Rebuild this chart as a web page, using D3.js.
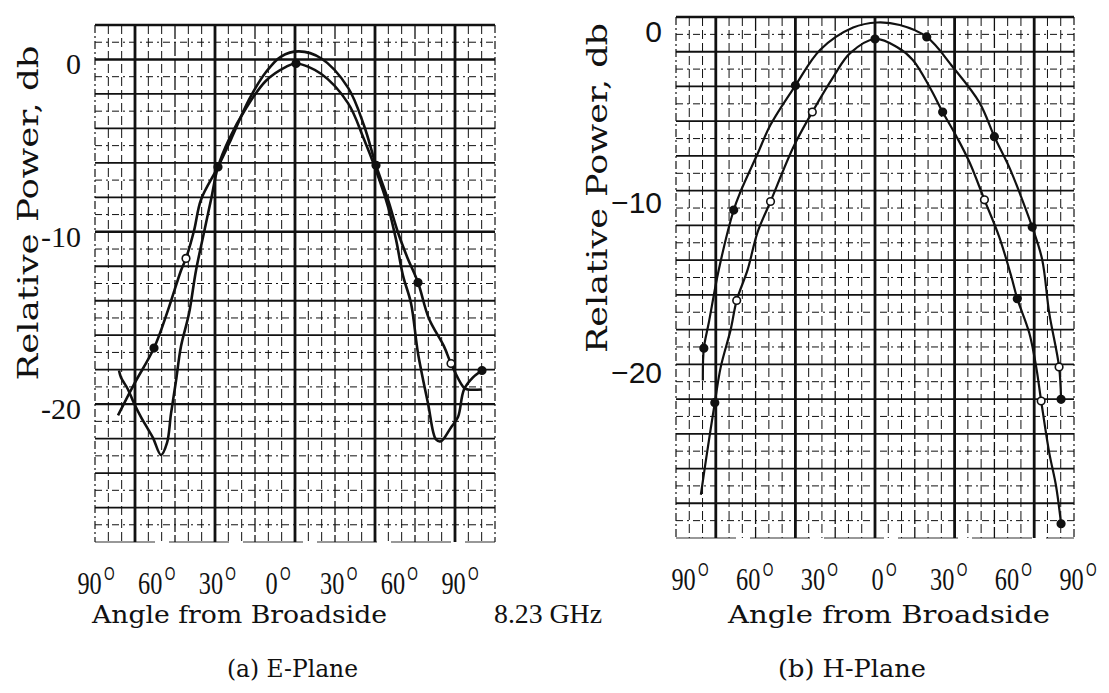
<!DOCTYPE html>
<html>
<head>
<meta charset="utf-8">
<script src="https://cdn.jsdelivr.net/npm/d3@7/dist/d3.min.js"></script>
<style>
  body { margin: 0; background: #fff; }
  svg { display: block; }
</style>
</head>
<body>
<svg id="chart"></svg>
<script>
// ---- E-plane, trace 1 (higher peak, shallow side lobes) ----
let eAngle1 = [-88.5, -80.5, -70.5, -63.5, -57, -54.5, -50.5, -47, -38.5, -32, -23, -14.5, -7, 2, 13, 26.5, 34.5, 40.5, 46.5, 51.5, 56, 61.5, 67, 74.5, 78, 84.5, 86.5, 93.5];
let eDb1    = [-20.6, -18.8, -16.7, -14.5, -12.2, -11.5, -9.9, -8.1, -6.2, -4.6, -2.3, -0.7, 0.2, 0.5, 0.1, -1.6, -3.8, -6.1, -8.1, -10.0, -11.4, -12.9, -15.0, -16.6, -17.6, -19.0, -19.1, -19.1];

// ---- E-plane, trace 2 (lower peak, deep nulls) ----
let eAngle2 = [-88, -87, -83.5, -80.5, -77, -73.5, -71, -67, -64, -62, -59.5, -57, -53, -49.5, -45.5, -42, -38.5, -33, -24.5, -14.5, -4.5, 0.5, 13, 26.5, 34.5, 40.5, 46.5, 50.5, 54, 58, 61.5, 66.5, 70.5, 73, 78, 81.5, 84.5, 89, 93.5];
let eDb2    = [-18.0, -18.4, -19.1, -19.9, -20.7, -21.4, -21.9, -22.9, -22.2, -20.5, -18.6, -16.6, -14.7, -12.2, -10.0, -8.1, -6.2, -4.6, -2.8, -1.2, -0.4, -0.2, -0.8, -2.5, -4.6, -6.4, -8.5, -10.4, -12.5, -14.1, -17.0, -19.9, -22.0, -22.1, -21.3, -20.7, -19.1, -18.4, -18.0];

// E-plane plotted points (1 = filled, 0 = open)
let eMarkAngle = [-70.5, -54.5, -38.5, 0.5, 40.5, 61.5, 78, 93.5];
let eMarkDb    = [-16.7, -11.5, -6.2, -0.2, -6.1, -12.9, -17.6, -18.0];
let eMarkFill  = [1, 0, 1, 1, 1, 1, 0, 1];

// ---- H-plane, trace 1 (wide beam) ----
let hAngle1 = [-86.5, -86, -83.5, -78.5, -71, -67.5, -59, -52.5, -40, -27.5, -11, 1, 12.5, 26, 39, 52.5, 60, 67.5, 74, 79, 84, 87.5, 92.5, 93.5];
let hDb1    = [-20.5, -18.6, -17.1, -14.0, -10.5, -9.4, -7.2, -5.5, -3.2, -1.1, 0.2, 0.5, 0.35, -0.35, -2.1, -4.2, -6.2, -8.0, -9.9, -11.5, -13.4, -16.5, -19.7, -21.6];

// ---- H-plane, trace 2 (narrow beam) ----
let hAngle2 = [-87.5, -85, -80.5, -77.5, -72.5, -69.5, -64, -59, -52.5, -41, -31.5, -21, -12.5, 0, 11, 19, 27.5, 34, 41, 47.5, 55, 62.5, 68.5, 71.5, 77.5, 81, 83.5, 87.5, 91, 93.5];
let hDb2    = [-27.2, -25.2, -21.8, -19.7, -17.5, -15.8, -14.0, -11.8, -10.0, -6.8, -4.75, -2.7, -1.3, -0.47, -0.94, -1.7, -3.3, -4.75, -6.2, -7.7, -9.9, -12.1, -14.4, -15.7, -17.7, -19.7, -21.7, -24.7, -26.7, -28.9];

let hMarkAngle = [-80.5, -69.5, -52.5, -31.5, 0, 34, 55, 71.5, 83.5, 93.5, -86, -71, -40, 26, 60, 79, 92.5, 93.5];
let hMarkDb    = [-21.8, -15.8, -10.0, -4.75, -0.47, -4.75, -9.9, -15.7, -21.7, -28.9, -18.6, -10.5, -3.2, -0.35, -6.2, -11.5, -19.7, -21.6];
let hMarkFill  = [1, 0, 0, 0, 1, 1, 0, 1, 0, 1, 1, 1, 1, 1, 1, 1, 0, 1];

// axis text
let angleTicks = ['90', '60', '30', '0', '30', '60', '90'];
let dbTicks = [0, -10, -20];

let width = 1109;
let height = 693;
let ink = '#111';

let svg = d3.select('#chart').attr('width', width).attr('height', height);

// graph paper: 30 x 30 cells per panel
let eGridX = d3.scaleLinear().domain([0, 30]).range([95, 495]);
let eGridY = d3.scaleLinear().domain([0, 30]).range([25, 542]);
let hGridX = d3.scaleLinear().domain([0, 30]).range([676, 1074]);
let hGridY = d3.scaleLinear().domain([0, 30]).range([17, 538]);

// data scales
let eX = d3.scaleLinear().domain([-100, 100]).range([95, 495]);
let eY = d3.scaleLinear().domain([0, -20]).range([60, 405]);
let hX = d3.scaleLinear().domain([-100, 100]).range([676, 1074]);
let hY = d3.scaleLinear().domain([0, -20]).range([31, 372]);

let drawPaper = (gx, gy, heavyRows) => {
  let g = svg.append('g').attr('class', 'paper');
  d3.range(0, 31).forEach(j => {
    let y = gy(j);
    let line = g.append('line')
      .attr('x1', gx(0)).attr('x2', gx(30))
      .attr('y1', y).attr('y2', y)
      .attr('stroke', ink);
    if (j === 30) {
      line.attr('stroke', '#777').attr('stroke-width', 1.6).attr('stroke-dasharray', '60,14');
    } else if (j % 2 === 0) {
      line.attr('stroke-width', heavyRows.includes(j) || j === 0 ? 2.4 : 1.8);
    } else {
      line.attr('stroke-width', 1).attr('stroke-dasharray', '7,4,2,4');
    }
  });
  d3.range(0, 31).forEach(i => {
    let x = gx(i);
    let line = g.append('line')
      .attr('x1', x).attr('x2', x)
      .attr('y1', gy(0)).attr('y2', gy(30))
      .attr('stroke', ink);
    if (i % 6 === 3) {
      line.attr('stroke-width', 2.8);
    } else if (i === 0 || i === 30) {
      line.attr('stroke-width', 1.2).attr('stroke-dasharray', '8,3,2,3');
    } else if (i % 6 === 0) {
      line.attr('stroke-width', 1.3).attr('stroke-dasharray', '14,3');
    } else {
      line.attr('stroke-width', 1).attr('stroke-dasharray', '9,4');
    }
  });
};

let drawTrace = (xs, ys, angles, dbs, w) => {
  let line = d3.line()
    .x(d => xs(d[0]))
    .y(d => ys(d[1]))
    .curve(d3.curveCatmullRom.alpha(0.5));
  svg.append('path')
    .datum(d3.zip(angles, dbs))
    .attr('d', line)
    .attr('fill', 'none')
    .attr('stroke', ink)
    .attr('stroke-width', w)
    .attr('stroke-linejoin', 'round');
};

let drawMarks = (xs, ys, angles, dbs, fills) => {
  svg.append('g').selectAll('circle')
    .data(d3.range(angles.length))
    .enter()
    .append('circle')
    .attr('cx', i => xs(angles[i]))
    .attr('cy', i => ys(dbs[i]))
    .attr('r', 3.8)
    .attr('fill', i => fills[i] ? ink : '#fff')
    .attr('stroke', ink)
    .attr('stroke-width', 1.6);
};

let serif = '"Liberation Serif", "DejaVu Serif", serif';
let wideSerif = '"DejaVu Serif", "Liberation Serif", serif';
let sans = '"Liberation Sans", Arial, sans-serif';

let angleLabels = (pos, y) => {
  angleTicks.forEach((t, i) => {
    let txt = svg.append('text')
      .attr('transform', 'translate(' + pos(i) + ',' + y + ') scale(0.76,1)')
      .attr('text-anchor', 'middle')
      .attr('fill', ink);
    txt.append('tspan')
      .attr('font-family', serif)
      .attr('font-size', 32)
      .text(t);
    txt.append('tspan')
      .attr('font-family', sans)
      .attr('font-size', 18)
      .attr('dx', 3)
      .attr('dy', -14)
      .text('O');
  });
};

// ---------- E-plane ----------
drawPaper(eGridX, eGridY, [2, 12, 22]);
drawTrace(eX, eY, eAngle1, eDb1, 2.6);
drawTrace(eX, eY, eAngle2, eDb2, 2.6);
drawMarks(eX, eY, eMarkAngle, eMarkDb, eMarkFill);

svg.append('g').selectAll('text')
  .data(dbTicks)
  .enter()
  .append('text')
  .attr('x', 81)
  .attr('y', d => eY(d) + 14)
  .attr('text-anchor', 'end')
  .attr('font-family', serif)
  .attr('font-size', 30)
  .attr('fill', ink)
  .text(d => d === 0 ? '0' : '-' + Math.abs(d));

svg.append('text')
  .attr('transform', 'translate(38,213) rotate(-90)')
  .attr('text-anchor', 'middle')
  .attr('font-family', wideSerif)
  .attr('font-size', 27)
  .attr('textLength', 335)
  .attr('lengthAdjust', 'spacingAndGlyphs')
  .attr('fill', ink)
  .text('Relative Power,  db');

angleLabels(d3.scalePoint().domain(d3.range(7)).range([96, 460]), 594);

svg.append('text')
  .attr('x', 92).attr('y', 623)
  .attr('font-family', wideSerif)
  .attr('font-size', 25)
  .attr('textLength', 295)
  .attr('lengthAdjust', 'spacingAndGlyphs')
  .attr('fill', ink)
  .text('Angle from Broadside');

svg.append('text')
  .attr('x', 494).attr('y', 623)
  .attr('font-family', serif)
  .attr('font-size', 28)
  .attr('textLength', 108)
  .attr('lengthAdjust', 'spacingAndGlyphs')
  .attr('fill', ink)
  .text('8.23 GHz');

svg.append('text')
  .attr('x', 227).attr('y', 677)
  .attr('font-family', wideSerif)
  .attr('font-size', 25)
  .attr('textLength', 131)
  .attr('lengthAdjust', 'spacingAndGlyphs')
  .attr('fill', ink)
  .text('(a)  E-Plane');

// ---------- H-plane ----------
drawPaper(hGridX, hGridY, []);
drawTrace(hX, hY, hAngle1, hDb1, 2.2);
drawTrace(hX, hY, hAngle2, hDb2, 2.2);
drawMarks(hX, hY, hMarkAngle, hMarkDb, hMarkFill);

svg.append('g').selectAll('text')
  .data(dbTicks)
  .enter()
  .append('text')
  .attr('x', 662)
  .attr('y', d => hY(d) + 11)
  .attr('text-anchor', 'end')
  .attr('font-family', sans)
  .attr('font-size', 30)
  .attr('fill', ink)
  .text(d => d === 0 ? '0' : '\u2212' + Math.abs(d));

svg.append('text')
  .attr('transform', 'translate(607,188) rotate(-90)')
  .attr('text-anchor', 'middle')
  .attr('font-family', wideSerif)
  .attr('font-size', 27)
  .attr('textLength', 330)
  .attr('lengthAdjust', 'spacingAndGlyphs')
  .attr('fill', ink)
  .text('Relative Power,  db');

angleLabels(d3.scalePoint().domain(d3.range(7)).range([690, 1078]), 590);

svg.append('text')
  .attr('x', 728).attr('y', 623)
  .attr('font-family', wideSerif)
  .attr('font-size', 25)
  .attr('textLength', 322)
  .attr('lengthAdjust', 'spacingAndGlyphs')
  .attr('fill', ink)
  .text('Angle from Broadside');

svg.append('text')
  .attr('x', 778).attr('y', 677)
  .attr('font-family', wideSerif)
  .attr('font-size', 25)
  .attr('textLength', 148)
  .attr('lengthAdjust', 'spacingAndGlyphs')
  .attr('fill', ink)
  .text('(b)  H-Plane');
</script>
</body>
</html>
